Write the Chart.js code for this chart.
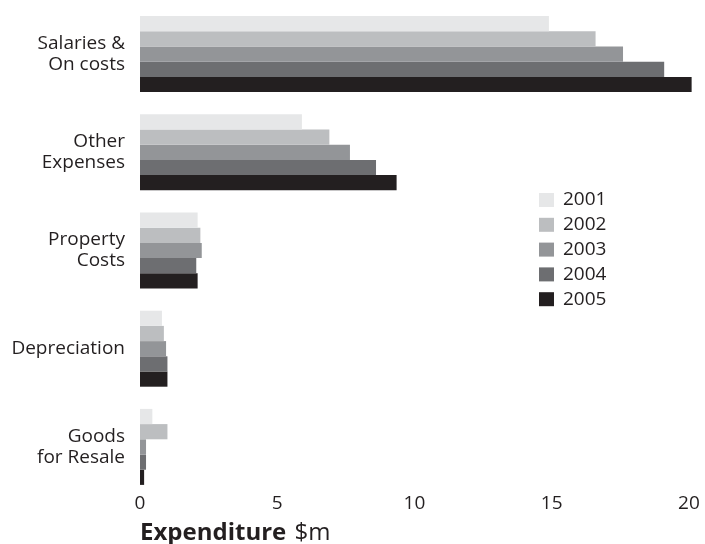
<!DOCTYPE html>
<html>
<head>
<meta charset="utf-8">
<script src="https://cdn.jsdelivr.net/npm/chart.js@4"></script>
<style>
  html, body { margin: 0; padding: 0; background: #fff; }
</style>
</head>
<body>
<canvas id="eChart" width="705" height="544"></canvas>
<script>
const categories = [['Salaries &', 'On costs'], ['Other', 'Expenses'], ['Property', 'Costs'], 'Depreciation', ['Goods', 'for Resale']];
const years = ['2001', '2002', '2003', '2004', '2005'];
const v2001 = [14.9, 5.9, 2.1, 0.8, 0.45];
const v2002 = [16.6, 6.9, 2.2, 0.87, 1.0];
const v2003 = [17.6, 7.65, 2.25, 0.95, 0.22];
const v2004 = [19.1, 8.6, 2.05, 1.0, 0.22];
const v2005 = [20.1, 9.35, 2.1, 1.0, 0.15];
const xTicks = [0, 5, 10, 15, 20];
const greys = ['#e6e7e8', '#bcbec0', '#939598', '#6d6e71', '#231f20'];
const ink = '#231f20';

Chart.defaults.font.family = "'Open Sans', sans-serif";
Chart.defaults.color = ink;

// legend sits inside the plot, right of the short bars
const sideLegend = {
  id: 'sideLegend',
  afterDraw(chart) {
    const ctx = chart.ctx;
    const left = 539, top = 193;
    ctx.save();
    ctx.font = "19px 'Open Sans'";
    ctx.textBaseline = 'middle';
    chart.data.datasets.forEach((ds, i) => {
      const y = top + i * 24.8;
      ctx.fillStyle = ds.backgroundColor;
      ctx.fillRect(left, y, 15, 14);
      ctx.fillStyle = ink;
      ctx.fillText(ds.label, left + 24, y + 7);
    });
    ctx.restore();
  }
};

// axis title with bold + regular parts
const axisTitle = {
  id: 'axisTitle',
  afterDraw(chart) {
    const ctx = chart.ctx, x = chart.chartArea.left;
    ctx.save();
    ctx.fillStyle = ink;
    ctx.textBaseline = 'alphabetic';
    ctx.font = "bold 24px 'Open Sans'";
    ctx.fillText('Expenditure', x, 540);
    const w = ctx.measureText('Expenditure ').width;
    ctx.font = "24px 'Open Sans'";
    ctx.fillText('$m', x + w + 2, 540);
    ctx.restore();
  }
};

const series = [v2001, v2002, v2003, v2004, v2005];

const eChart = new Chart(document.getElementById('eChart'), {
  type: 'bar',
  data: {
    labels: categories,
    datasets: years.map((y, i) => ({
      label: y,
      data: series[i],
      backgroundColor: greys[i],
      borderWidth: 0,
      categoryPercentage: 0.774,
      barPercentage: 1
    }))
  },
  options: {
    indexAxis: 'y',
    responsive: false,
    animation: false,
    layout: { padding: { top: 5, right: 12, left: 0, bottom: 0 } },
    plugins: { legend: { display: false }, tooltip: { enabled: false } },
    scales: {
      x: {
        type: 'linear',
        min: 0,
        max: 20.15,
        grid: { display: false, drawTicks: false },
        border: { display: false },
        ticks: { padding: -4, autoSkip: false, maxRotation: 0, font: { size: 19 } },
        afterBuildTicks: s => { s.ticks = xTicks.map(v => ({ value: v })); },
        afterFit: s => { s.height = 48; s.paddingLeft = 0; }
      },
      y: {
        grid: { display: false, drawTicks: false },
        border: { display: false },
        ticks: { padding: 15, autoSkip: false, font: { size: 19, lineHeight: 1.1 } },
        afterFit: s => { s.width = 140; s.paddingTop = 0; s.paddingBottom = 0; }
      }
    }
  },
  plugins: [sideLegend, axisTitle]
});
</script>
</body>
</html>
